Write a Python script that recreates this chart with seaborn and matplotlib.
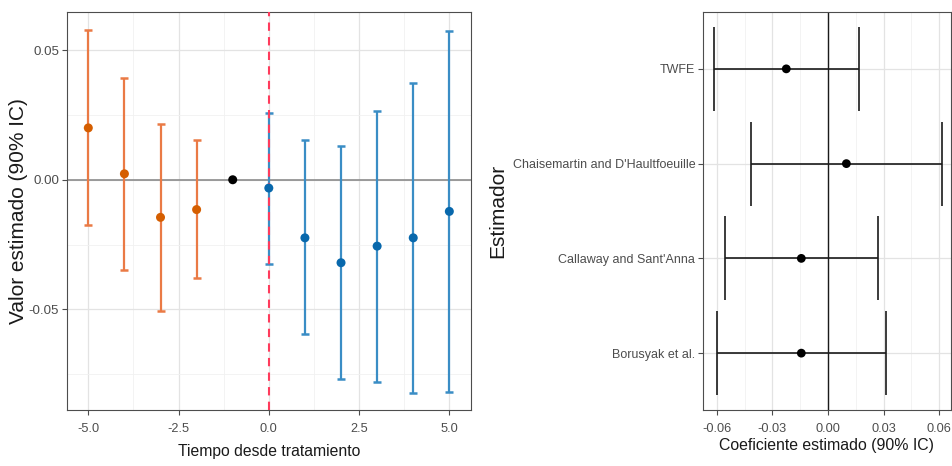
import numpy as np
import pandas as pd
import matplotlib
matplotlib.use("Agg")
import matplotlib.pyplot as plt
from matplotlib.ticker import MultipleLocator
import seaborn as sns

# ---------------- data ----------------
event_time = [-5, -4, -3, -2, -1, 0, 1, 2, 3, 4, 5]
event_est = [0.0200, 0.0023, -0.0145, -0.0115, 0.0, -0.0032, -0.0224, -0.0320, -0.0256, -0.0224, -0.0122]
event_lo = [-0.0173, -0.0347, -0.0507, -0.0378, np.nan, -0.0324, -0.0594, -0.0767, -0.0780, -0.0821, -0.0819]
event_hi = [0.0578, 0.0393, 0.0216, 0.0154, np.nan, 0.0257, 0.0152, 0.0130, 0.0267, 0.0374, 0.0573]
event_group = ["pre", "pre", "pre", "pre", "ref", "post", "post", "post", "post", "post", "post"]

estimators = ["TWFE", "Chaisemartin and D'Haultfoeuille", "Callaway and Sant'Anna", "Borusyak et al."]
est_coef = [-0.0225, 0.0099, -0.0144, -0.0144]
est_lo = [-0.0617, -0.0415, -0.0557, -0.0598]
est_hi = [0.0165, 0.0614, 0.0267, 0.0313]

x_ticks_left = [-5.0, -2.5, 0.0, 2.5, 5.0]
y_ticks_left = [-0.05, 0.00, 0.05]
x_ticks_right = [-0.06, -0.03, 0.00, 0.03, 0.06]

# ---------------- style ----------------
sns.set_theme(style="white")
fam = ["Liberation Sans", "DejaVu Sans"]
plt.rcParams["font.family"] = fam

pt_col = {"pre": "#D55E00", "ref": "#000000", "post": "#0868AC"}
bar_col = {"pre": "#EA7A45", "ref": "#000000", "post": "#3A8DC5"}

W, H = 953, 466
fig = plt.figure(figsize=(W / 100, H / 100), dpi=100)
fig.patch.set_facecolor("white")

def box(l, t, r, b):
    return [l / W, (H - b) / H, (r - l) / W, (b - t) / H]

def style_axes(ax):
    for s in ax.spines.values():
        s.set_color("#4d4d4d")
        s.set_linewidth(0.8)
    ax.set_facecolor("white")
    ax.grid(True, which="major", color="#e3e3e3", linewidth=0.9, zorder=0)
    ax.grid(True, which="minor", color="#f1f1f1", linewidth=0.6, zorder=0)
    ax.tick_params(axis="both", which="major", length=3.5, width=0.8, color="#4d4d4d",
                   labelcolor="#4d4d4d", labelsize=9.2, bottom=True, left=True)
    ax.tick_params(axis="x", which="major", pad=6)
    ax.tick_params(axis="y", which="major", pad=2)
    ax.tick_params(axis="both", which="minor", length=0)
    ax.set_axisbelow(True)

# ---------------- left panel ----------------
ax1 = fig.add_axes(box(67, 12, 471, 410))
style_axes(ax1)
ax1.tick_params(axis="y", labelsize=9.6)
df = pd.DataFrame({"t": event_time, "est": event_est, "lo": event_lo, "hi": event_hi, "g": event_group})

ax1.axhline(0, color="#8c8c8c", linewidth=1.2, zorder=1)
for g in ["pre", "post"]:
    d = df[df.g == g]
    ax1.errorbar(d.t, d.est, yerr=[d.est - d.lo, d.hi - d.est], fmt="none",
                 ecolor=bar_col[g], elinewidth=1.6, capsize=2.6, capthick=1.8, zorder=2)
ax1.axvline(0, color="#FF3B5C", linestyle=(0, (4, 3)), linewidth=1.5, zorder=3)
sns.scatterplot(data=df, x="t", y="est", hue="g", palette=pt_col, s=42,
                edgecolor="none", legend=False, ax=ax1, zorder=4)

ax1.set_xlim(-5.59, 5.6)
ax1.set_ylim(-0.0888, 0.0647)
ax1.set_xticks(x_ticks_left)
ax1.set_xticklabels([f"{v:.1f}" for v in x_ticks_left])
ax1.set_yticks(y_ticks_left)
ax1.set_yticklabels([f"{v:.2f}" for v in y_ticks_left])
ax1.xaxis.set_minor_locator(MultipleLocator(1.25))
ax1.yaxis.set_minor_locator(MultipleLocator(0.025))
ax1.set_xlabel("Tiempo desde tratamiento", fontsize=11.3, color="#1a1a1a", labelpad=6)
ax1.set_ylabel("Valor estimado (90% IC)", fontsize=15, color="#1a1a1a")
ax1.yaxis.set_label_coords(-0.097, 0.5)

# ---------------- right panel ----------------
ax2 = fig.add_axes(box(703, 12, 951, 410))
style_axes(ax2)
ypos = np.arange(len(estimators))[::-1]  # TWFE at top
dr = pd.DataFrame({"coef": est_coef, "lo": est_lo, "hi": est_hi, "y": ypos, "name": estimators})

ax2.axvline(0, color="#1a1a1a", linewidth=1.0, zorder=1)
ax2.errorbar(dr.coef, dr.y, xerr=[dr.coef - dr.lo, dr.hi - dr.coef], fmt="none",
             ecolor="#1a1a1a", elinewidth=1.2, capsize=30.5, capthick=1.2, zorder=2)
sns.scatterplot(data=dr, x="coef", y="y", color="#000000", s=40, edgecolor="none",
                legend=False, ax=ax2, zorder=3)

ax2.set_ylim(-0.6, 3.6)
ax2.set_xlim(-0.0674, 0.0663)
ax2.set_yticks(ypos)
ax2.set_yticklabels(estimators, fontsize=9.0)
ax2.set_xticks(x_ticks_right)
ax2.set_xticklabels([f"{v:.2f}" for v in x_ticks_right])
ax2.xaxis.set_minor_locator(MultipleLocator(0.015))
ax2.set_xlabel("Coeficiente estimado (90% IC)", fontsize=11.4, color="#1a1a1a", labelpad=2)
ax2.set_ylabel("Estimador", fontsize=15, color="#1a1a1a")
ax2.yaxis.set_label_coords(-0.79, 0.5)

fig.savefig("out.png", dpi=100, facecolor="white")
